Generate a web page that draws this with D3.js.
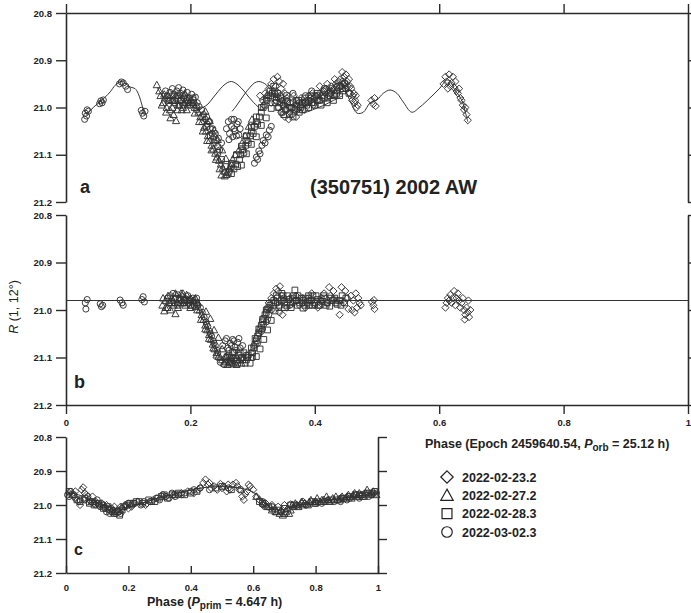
<!DOCTYPE html>
<html>
<head>
<meta charset="utf-8">
<script src="https://cdn.jsdelivr.net/npm/d3@7"></script>
<style>
  body { margin: 0; background: #fff; }
  svg { display: block; }
  text { font-family: "Liberation Sans", Arial, sans-serif; fill: #222; }
</style>
</head>
<body>
<svg id="chart" width="691" height="613"></svg>
<script>
// ---- Observing nights (legend order) ----
const nights = ["2022-02-23.2", "2022-02-27.2", "2022-02-28.3", "2022-03-02.3"];
const shapes = ["diamond", "triangle", "square", "circle"];

// ---- Axis ticks ----
const magMajor = [20.8, 20.9, 21.0, 21.1, 21.2];
const magMinor = [20.85, 20.95, 21.05, 21.15];
const phaseMajor = [0, 0.2, 0.4, 0.6, 0.8, 1];
const phaseMinor = [0.1, 0.3, 0.5, 0.7, 0.9];
const phaseLabels = ["0", "0.2", "0.4", "0.6", "0.8", "1"];

// ---- Panel a: observed R(1,12°) vs orbital phase, [phase, mag] ----
const aDiamond = [
  [0.312,20.975],[0.316,20.985],[0.32,20.97],[0.326,20.96],[0.33,20.95],[0.334,20.94],[0.337,20.955],[0.34,20.935],
  [0.343,20.945],[0.346,20.96],[0.349,20.95],[0.352,20.97],[0.346,21.01],[0.352,21.02],[0.358,21.025],[0.364,21.015],
  [0.37,21.02],[0.355,20.98],[0.36,20.99],[0.366,20.975],[0.372,20.985],[0.378,20.995],[0.383,21.005],[0.388,20.99],
  [0.393,20.98],[0.398,20.995],[0.403,20.985],[0.408,20.97],[0.413,20.98],[0.418,20.96],[0.422,20.975],[0.426,20.955],
  [0.43,20.965],[0.434,20.95],[0.438,20.96],[0.441,20.94],[0.444,20.925],[0.447,20.935],[0.45,20.93],[0.452,20.945],
  [0.455,20.94],[0.457,20.955],[0.459,20.96],[0.461,20.975],[0.463,20.97],[0.465,20.985],[0.467,21.0],[0.469,20.995],
  [0.318,20.995],[0.324,20.975],[0.33,20.99],[0.336,20.97],[0.342,20.98],[0.348,20.995],[0.354,21.005],[0.36,21.01],
  [0.366,21.0],[0.372,21.005],[0.378,20.98],[0.384,20.99],[0.39,20.975],[0.396,20.97],[0.402,20.975],[0.408,20.955],
  [0.414,20.965],[0.42,20.95],[0.426,20.97],[0.432,20.94],[0.438,20.945],[0.442,20.955],[0.446,20.95],[0.449,20.96],
  [0.453,20.955],[0.456,20.97],[0.46,20.985],[0.464,20.99],[0.466,20.975],
  [0.491,20.985],[0.494,20.993],[0.496,20.98],[0.498,20.997],
  [0.607,20.95],[0.61,20.935],[0.612,20.945],[0.614,20.96],[0.616,20.93],[0.618,20.955],[0.62,20.948],[0.622,20.935],
  [0.624,20.958],[0.626,20.945],[0.628,20.965],[0.63,20.97],[0.632,20.96],[0.634,20.98],[0.636,20.985],[0.638,20.995],
  [0.64,21.005],[0.642,21.0],[0.644,21.015],[0.646,21.027]
];
const aTriangle = [
  [0.146,20.952],[0.152,20.975],[0.156,20.99],[0.159,20.98],[0.162,21.0],[0.165,20.985],[0.168,21.022],[0.171,21.0],
  [0.174,20.99],[0.177,21.028],[0.18,20.995],[0.183,20.985],[0.186,21.005],[0.19,20.99],[0.193,20.98],[0.196,20.995],
  [0.2,20.985],[0.204,20.99],[0.207,21.0],[0.21,20.995],
  [0.15,20.965],[0.154,20.995],[0.158,20.972],[0.161,21.01],[0.164,20.975],[0.167,21.005],[0.17,20.985],[0.173,21.015],
  [0.176,20.975],[0.179,21.005],[0.182,20.995],[0.185,20.975],[0.188,21.0],[0.191,20.97],[0.194,21.005],[0.198,20.99],
  [0.213,21.01],[0.216,21.02],[0.219,21.03],[0.222,21.042],[0.225,21.05],[0.228,21.06],[0.231,21.07],[0.234,21.08],
  [0.237,21.088],[0.24,21.097],[0.243,21.105],[0.246,21.112],[0.249,21.12],[0.252,21.128],[0.255,21.135],[0.258,21.142],
  [0.207,21.012],[0.224,21.008],[0.214,21.03],[0.231,21.028],[0.22,21.05],[0.238,21.048],[0.227,21.07],[0.244,21.068],
  [0.234,21.09],[0.251,21.09],[0.241,21.11],[0.257,21.108],[0.247,21.13],[0.264,21.125],[0.25,21.143],[0.255,21.145],
  [0.26,21.138],[0.263,21.13],[0.266,21.12],[0.268,21.11],[0.272,21.1],[0.278,21.09],[0.283,21.075],[0.288,21.06],
  [0.294,21.04],[0.299,21.025]
];
const aSquare = [
  [0.172,20.985],[0.18,20.98],[0.188,20.995],[0.196,20.99],[0.204,20.98],
  [0.22,21.02],[0.226,21.04],[0.232,21.06],[0.238,21.075],[0.244,21.095],[0.25,21.11],
  [0.256,21.125],[0.262,21.135],[0.266,21.14],[0.27,21.13],[0.273,21.12],[0.276,21.125],[0.279,21.11],[0.281,21.1],
  [0.284,21.09],[0.286,21.095],[0.289,21.08],[0.291,21.07],[0.293,21.075],[0.296,21.06],[0.298,21.05],[0.301,21.055],
  [0.303,21.04],[0.306,21.03],[0.308,21.035],[0.311,21.02],[0.314,21.01],[0.317,21.0],[0.32,20.995],[0.323,20.985],
  [0.326,20.975],[0.329,20.98],[0.332,20.97],[0.335,20.965],
  [0.266,21.118],[0.282,21.122],[0.274,21.1],[0.29,21.098],[0.282,21.082],[0.298,21.078],[0.29,21.06],[0.306,21.062],
  [0.298,21.042],[0.314,21.038],[0.306,21.02],[0.322,21.022],[0.314,21.0],[0.33,21.002],[0.322,20.98],[0.338,20.978],
  [0.328,20.965],[0.334,20.955],
  [0.338,20.985],[0.341,21.0],[0.344,20.99],[0.347,21.01],[0.35,20.995],[0.353,21.005],[0.356,20.99],[0.359,21.015],
  [0.362,21.0],[0.365,20.99],[0.368,21.005],[0.371,20.995],[0.374,20.985],[0.377,21.0],[0.38,20.99],[0.384,20.98],
  [0.387,20.995],[0.39,20.985],[0.394,20.975],[0.397,20.99],[0.4,20.98],[0.404,20.97],[0.408,20.985],[0.412,20.975],
  [0.416,20.965],[0.42,20.98],[0.424,20.97],[0.428,20.96],[0.432,20.975],[0.436,20.965],[0.44,20.955],[0.444,20.96],
  [0.448,20.95],
  [0.34,20.97],[0.345,20.98],[0.35,21.015],[0.355,20.975],[0.36,21.0],[0.365,21.02],[0.37,20.985],[0.375,21.01],
  [0.38,21.005],[0.385,20.99],[0.39,21.0],[0.395,20.99],[0.4,20.995],[0.405,20.985],[0.41,20.995],[0.415,20.98],
  [0.42,20.99],[0.425,20.975],[0.43,20.985],[0.435,20.97],[0.44,20.975],[0.445,20.965],[0.45,20.96],[0.455,20.97]
];
const aCircle = [
  [0.030,21.025],[0.031,21.012],[0.033,21.018],[0.034,21.005],[0.036,21.008],
  [0.054,20.992],[0.056,20.986],[0.058,20.99],[0.06,20.984],
  [0.086,20.95],[0.089,20.946],[0.092,20.948],[0.096,20.955],[0.099,20.962],
  [0.121,21.006],[0.123,21.012],[0.125,21.018],[0.127,21.008],
  [0.163,20.975],[0.167,20.968],[0.171,20.96],[0.174,20.972],[0.178,20.965],[0.181,20.958],[0.184,20.97],[0.188,20.963],
  [0.191,20.975],[0.195,20.968],[0.198,20.98],[0.202,20.972],[0.205,20.984],[0.208,20.978],[0.211,20.99],[0.214,20.998],
  [0.16,20.965],[0.165,20.985],[0.17,20.975],[0.175,20.985],[0.18,20.975],[0.185,20.985],[0.19,20.98],[0.195,20.985],
  [0.2,20.995],[0.205,20.99],[0.21,21.005],
  [0.218,21.005],[0.221,21.015],[0.224,21.025],[0.227,21.035],[0.229,21.03],[0.232,21.045],[0.235,21.055],[0.238,21.062],
  [0.241,21.07],[0.244,21.082],[0.247,21.09],
  [0.226,21.02],[0.231,21.03],[0.236,21.045],[0.24,21.055],[0.245,21.065],[0.25,21.075],
  [0.258,21.045],[0.261,21.03],[0.263,21.055],[0.266,21.04],[0.268,21.062],[0.27,21.025],[0.272,21.05],[0.275,21.035],
  [0.278,21.058],[0.28,21.045],[0.262,21.068],[0.266,21.025],[0.27,21.045],[0.274,21.06],[0.277,21.03],
  [0.303,21.118],[0.306,21.105],[0.308,21.11],[0.31,21.092],[0.312,21.098],[0.315,21.08],[0.317,21.07],[0.32,21.075],
  [0.322,21.058],[0.325,21.062],[0.327,21.048],[0.33,21.04],
  [0.336,20.99],[0.342,21.0],[0.348,20.985],[0.345,20.975],[0.355,20.985],[0.365,20.97],[0.375,20.99],[0.385,20.975],
  [0.395,20.965],[0.405,20.975],[0.415,20.96],[0.425,20.965],[0.435,20.955],[0.445,20.945]
];
// Model curves for each night (primary + secondary rotation)
const aModel1 = [
  [0.032,21.015],[0.04,21.005],[0.048,20.995],[0.055,20.988],[0.063,20.978],[0.071,20.967],[0.079,20.953],[0.085,20.947],
  [0.092,20.945],[0.098,20.952],[0.104,20.957],[0.111,20.96],[0.116,20.97],[0.12,20.985],[0.124,21.003],[0.127,21.012]
];
const aModel2 = [
  [0.147,20.958],[0.152,20.97],[0.16,20.985],[0.168,20.99],[0.178,20.992],[0.188,20.99],[0.198,20.993],[0.206,21.0],
  [0.212,21.005],[0.22,21.0],[0.228,20.993],[0.236,20.98],[0.244,20.967],[0.252,20.955],[0.26,20.947],[0.266,20.945],
  [0.272,20.948],[0.278,20.954],[0.286,20.965],[0.294,20.978],[0.302,20.99],[0.31,21.0]
];
const aModel3 = [
  [0.267,21.008],[0.272,21.0],[0.28,20.985],[0.288,20.97],[0.296,20.957],[0.303,20.948],[0.31,20.945],
  [0.316,20.947],[0.322,20.952],[0.33,20.965],[0.338,20.978],[0.346,20.99],[0.354,21.0],[0.37,21.008],[0.385,21.01],
  [0.4,21.003],[0.415,20.995],[0.43,20.985],[0.445,20.975]
];
const aModel4 = [
  [0.312,20.985],[0.325,20.98],[0.34,20.985],[0.36,20.995],[0.38,21.0],[0.4,20.985],[0.42,20.965],[0.435,20.95],
  [0.443,20.946],[0.45,20.965],[0.458,20.99],[0.468,21.012],[0.478,21.01],[0.489,20.99],[0.5,20.984],[0.51,20.97],
  [0.521,20.963],[0.532,20.97],[0.542,20.988],[0.556,21.01],[0.569,20.999],[0.585,20.98],[0.601,20.959],[0.612,20.942],
  [0.618,20.945],[0.625,20.963],[0.632,20.975],[0.638,20.99],[0.642,21.01],[0.646,21.03]
];

// ---- Panel b: after subtracting the primary lightcurve ----
const bMean = 20.98;
const bDiamond = [
  [0.326,20.985],[0.33,20.975],[0.334,20.965],[0.338,20.955],[0.341,20.96],[0.344,20.95],[0.347,20.97],[0.35,20.98],
  [0.343,21.005],[0.348,21.01],[0.355,20.995],[0.36,20.975],[0.365,20.985],[0.37,20.97],[0.375,20.99],[0.38,20.975],
  [0.385,20.995],[0.39,20.98],[0.395,20.965],[0.4,20.985],[0.405,20.995],[0.41,20.975],[0.415,20.965],[0.42,20.985],
  [0.423,20.952],[0.425,20.97],[0.43,20.96],[0.435,20.98],[0.44,21.01],[0.443,20.952],[0.446,20.985],[0.449,20.96],
  [0.452,20.975],[0.454,20.998],[0.458,20.97],[0.46,21.0],[0.462,20.98],[0.464,21.005],[0.466,20.965],[0.468,20.995],
  [0.47,20.975],[0.472,20.985],[0.474,20.99],
  [0.492,20.983],[0.494,20.99],[0.496,20.998],[0.495,20.979],
  [0.61,20.995],[0.612,20.985],[0.614,20.975],[0.616,20.98],[0.618,20.968],[0.62,20.985],[0.622,20.975],[0.624,20.96],
  [0.626,20.99],[0.628,20.975],[0.63,20.965],[0.632,20.98],[0.634,20.995],[0.636,20.985],[0.638,20.975],[0.64,21.0],
  [0.642,21.01],[0.644,20.995],[0.646,21.005],[0.648,21.015],[0.65,21.0],[0.647,20.98],[0.641,21.02]
];
const bTriangle = [
  [0.155,20.99],[0.158,21.002],[0.16,20.98],[0.163,20.995],[0.166,20.985],[0.17,20.975],[0.173,20.99],[0.176,21.008],
  [0.179,20.985],[0.182,20.975],[0.185,20.965],[0.188,20.985],[0.191,20.978],[0.194,20.968],[0.197,20.985],[0.2,20.975],
  [0.203,20.99],[0.206,20.98],[0.209,20.993],[0.212,20.985],
  [0.156,20.975],[0.16,20.995],[0.164,20.97],[0.168,21.0],[0.172,20.98],[0.176,20.965],[0.18,20.995],[0.184,20.985],
  [0.188,20.965],[0.192,20.99],[0.196,20.978],[0.2,20.995],[0.204,20.98],[0.208,20.975],
  [0.215,21.0],[0.218,21.01],[0.221,21.02],[0.224,21.032],[0.227,21.042],[0.23,21.052],[0.233,21.062],[0.236,21.072],
  [0.239,21.082],[0.242,21.09],[0.245,21.098],[0.248,21.1],
  [0.211,21.0],[0.225,21.003],[0.217,21.02],[0.232,21.018],[0.224,21.04],[0.238,21.042],[0.23,21.06],[0.245,21.058],
  [0.237,21.08],[0.251,21.082],[0.242,21.095],[0.256,21.098],
  [0.251,21.105],[0.254,21.112],[0.257,21.108],[0.26,21.115],[0.263,21.11],[0.266,21.102],[0.269,21.112],
  [0.258,21.098],[0.262,21.105],[0.266,21.112],[0.27,21.1],[0.274,21.115],[0.278,21.105],[0.282,21.112],[0.286,21.1]
];
const bSquare = [
  [0.17,20.985],[0.18,20.99],[0.19,20.98],[0.2,20.99],[0.21,20.985],
  [0.262,21.095],[0.266,21.1],[0.27,21.09],[0.274,21.105],[0.278,21.095],[0.282,21.1],[0.286,21.09],[0.29,21.105],
  [0.293,21.095],[0.296,21.112],[0.298,21.1],
  [0.288,21.112],[0.284,21.105],[0.28,21.09],[0.276,21.112],[0.272,21.108],[0.268,21.09],[0.264,21.108],[0.259,21.1],
  [0.3,21.09],[0.302,21.08],[0.304,21.072],[0.306,21.065],[0.308,21.055],[0.31,21.048],[0.312,21.04],[0.314,21.032],
  [0.316,21.025],[0.318,21.018],[0.32,21.01],[0.322,21.005],[0.324,20.998],[0.326,20.995],[0.328,20.99],[0.331,20.985],
  [0.334,20.98],
  [0.292,21.1],[0.306,21.098],[0.298,21.08],[0.312,21.082],[0.304,21.06],[0.318,21.062],[0.31,21.04],[0.324,21.042],
  [0.316,21.02],[0.33,21.022],[0.322,21.0],[0.336,21.002],
  [0.337,20.985],[0.34,20.975],[0.343,20.99],[0.346,20.98],[0.349,20.97],[0.352,20.985],[0.355,20.99],[0.358,20.978],
  [0.361,20.985],[0.364,20.975],[0.368,20.958],[0.37,20.98],[0.373,20.97],[0.376,20.985],[0.381,20.996],[0.382,20.98],
  [0.385,20.975],[0.388,20.985],[0.391,20.99],[0.394,20.98],[0.397,20.97],[0.4,20.985],[0.404,20.978],[0.408,20.99],
  [0.412,20.982],[0.416,20.975],[0.42,20.985],[0.424,20.992],[0.428,20.98],[0.432,20.975],[0.436,20.988],[0.44,20.98],
  [0.444,20.97],[0.448,20.985],
  [0.338,20.97],[0.342,20.995],[0.347,20.965],[0.351,20.995],[0.356,20.97],[0.362,20.995],[0.366,20.97],[0.372,20.99],
  [0.378,20.975],[0.384,20.99],[0.39,20.97],[0.396,20.99],[0.402,20.97],[0.406,20.99],[0.414,20.97],[0.418,20.99],
  [0.426,20.975],[0.434,20.985],[0.442,20.99],[0.45,20.975]
];
const bCircle = [
  [0.031,20.985],[0.032,20.998],[0.034,20.978],[0.055,20.987],[0.057,20.993],[0.059,20.99],[0.087,20.979],[0.09,20.985],
  [0.092,20.99],[0.122,20.978],[0.124,20.972],[0.126,20.983],
  [0.163,20.975],[0.168,20.97],[0.172,20.965],[0.176,20.975],[0.18,20.968],[0.184,20.98],[0.188,20.972],[0.192,20.978],
  [0.196,20.97],[0.2,20.982],[0.204,20.975],[0.208,20.985],[0.212,20.99],
  [0.166,20.985],[0.174,20.985],[0.182,20.975],[0.19,20.985],[0.198,20.98],[0.206,20.99],[0.21,20.975],
  [0.216,20.995],[0.219,21.005],[0.222,21.015],[0.225,21.025],[0.228,21.035],[0.231,21.045],[0.234,21.055],[0.237,21.065],
  [0.24,21.075],[0.243,21.085],[0.226,21.03],[0.232,21.05],[0.238,21.07],[0.244,21.09],
  [0.252,21.075],[0.256,21.065],[0.26,21.08],[0.264,21.07],[0.268,21.062],[0.272,21.078],[0.276,21.068],[0.28,21.08],
  [0.248,21.11],[0.254,21.115],
  [0.258,21.06],[0.262,21.085],[0.266,21.075],[0.27,21.065],[0.274,21.085],[0.278,21.06],[0.284,21.075],[0.29,21.095],
  [0.298,21.09],[0.302,21.075],[0.306,21.06],[0.31,21.05],[0.314,21.045],[0.318,21.03],[0.322,21.025],[0.326,21.01],
  [0.3,21.1],[0.308,21.07],[0.316,21.04],[0.324,21.02],[0.33,21.0],
  [0.34,20.985],[0.35,20.975],[0.36,20.99],[0.37,20.98],[0.38,20.985],[0.39,20.975],[0.4,20.99],[0.41,20.98],
  [0.42,20.985],[0.43,20.978]
];

// ---- Panel c: primary rotational lightcurve vs rotational phase ----
const cDiamond = [
  [0.01,20.965],[0.025,20.975],[0.04,20.99],[0.05,20.955],[0.055,20.948],[0.06,20.965],[0.065,20.97],[0.045,21.0],
  [0.075,20.985],[0.085,20.975],[0.095,20.99],[0.105,21.0],[0.115,20.995],[0.125,21.008],[0.135,21.012],[0.145,21.02],
  [0.155,21.005],[0.165,21.015],[0.175,21.005],[0.19,21.0],[0.21,21.005],[0.23,20.99],[0.255,21.0],[0.28,20.985],
  [0.32,20.975],[0.345,20.97],[0.37,20.965],[0.39,20.96],[0.41,20.965],[0.425,20.955],[0.44,20.935],[0.447,20.925],
  [0.455,20.94],[0.465,20.95],[0.475,20.945],[0.485,20.955],[0.495,20.938],[0.505,20.945],[0.515,20.96],[0.525,20.955],
  [0.535,20.94],[0.545,20.935],[0.555,20.955],[0.565,20.975],[0.57,20.985],[0.575,20.968],[0.585,20.94],[0.59,20.945],
  [0.6,20.955],[0.61,20.975],[0.62,20.985],[0.63,21.0],[0.64,20.995],[0.655,21.01],[0.68,21.005],[0.72,20.998],
  [0.75,21.0],[0.78,20.995],[0.81,20.99],
  [0.03,20.96],[0.07,20.99],[0.1,20.995],[0.13,21.0],[0.16,21.02],[0.2,21.01],[0.26,20.995],[0.43,20.95],
  [0.46,20.935],[0.5,20.95],[0.52,20.94],[0.55,20.945],[0.58,20.96],[0.66,21.0],[0.7,21.0],[0.76,20.99]
];
const cTriangle = [
  [0.61,20.975],[0.635,20.995],[0.645,21.005],[0.66,21.015],[0.675,21.02],[0.685,21.025],[0.695,21.03],[0.705,21.02],
  [0.715,21.025],[0.725,21.0],[0.735,20.995],[0.745,21.005],[0.755,20.99],[0.765,20.995],[0.775,21.0],[0.785,20.985],
  [0.795,20.995],[0.805,20.98],[0.815,20.99],[0.825,20.985],[0.835,20.975],[0.845,20.99],[0.855,20.98],[0.865,20.975],
  [0.875,20.985],[0.885,20.975],[0.895,20.98],[0.905,20.97],[0.915,20.98],[0.925,20.965],[0.935,20.975],[0.945,20.97],
  [0.955,20.975],[0.965,20.955],[0.975,20.97],[0.985,20.96],[0.995,20.97],
  [0.64,21.0],[0.67,21.01],[0.69,21.015],[0.7,21.025],[0.71,21.01],[0.72,21.015],[0.73,21.005],[0.74,21.0],
  [0.76,21.0],[0.78,20.99],[0.8,20.99],[0.82,20.985],[0.84,20.985],[0.86,20.985],[0.88,20.98],[0.9,20.975],
  [0.92,20.97],[0.94,20.965],[0.96,20.965],[0.98,20.965]
];
const cSquare = [
  [0.02,20.97],[0.035,20.985],[0.06,20.98],[0.075,20.995],[0.09,21.0],[0.105,20.995],[0.12,21.01],[0.135,21.005],
  [0.15,21.02],[0.165,21.02],[0.172,21.03],[0.185,21.005],[0.205,20.995],[0.225,20.99],[0.245,20.995],[0.265,20.985],
  [0.285,20.99],[0.305,20.975],[0.325,20.98],[0.34,20.97],[0.36,20.965],[0.38,20.97],[0.42,20.96],[0.48,20.95],
  [0.5,20.945],[0.53,20.955],[0.62,20.99],[0.65,21.005],[0.67,21.02],[0.7,21.01],[0.73,21.0],[0.76,20.995],
  [0.79,20.99],[0.83,20.99],[0.87,20.985],[0.91,20.975],[0.93,20.97],[0.95,20.975],[0.97,20.965],[0.99,20.96],
  [0.01,20.96],[0.045,20.99],[0.085,20.99],[0.115,21.0],[0.14,21.015],[0.155,21.025],[0.18,21.015],[0.195,21.0],
  [0.215,20.995],[0.235,20.99],[0.275,20.99],[0.295,20.98],[0.315,20.97],[0.35,20.97],[0.4,20.965],[0.63,20.995],
  [0.68,21.015],[0.72,21.0],[0.8,20.995],[0.85,20.985],[0.89,20.98],[0.94,20.97],[0.98,20.965]
];
const cCircle = [
  [0.005,20.97],[0.015,20.96],[0.03,20.98],[0.045,20.985],[0.07,20.975],[0.08,20.99],[0.09,20.995],[0.1,20.985],
  [0.11,21.005],[0.12,21.0],[0.13,21.02],[0.14,21.025],[0.15,21.015],[0.16,21.025],[0.17,21.02],[0.18,21.01],
  [0.2,20.995],[0.22,20.995],[0.24,21.0],[0.27,20.99],[0.3,20.985],[0.31,20.97],[0.33,20.98],[0.35,20.975],
  [0.36,20.97],[0.38,20.965],[0.4,20.96],[0.43,20.95],[0.46,20.955],[0.52,20.95],[0.56,20.955],[0.63,20.99],
  [0.66,21.005],[0.69,21.02],[0.74,21.0],[0.77,21.0],[0.8,20.99],[0.82,20.995],[0.84,20.985],[0.86,20.99],
  [0.88,20.98],[0.9,20.985],[0.92,20.975],[0.94,20.98],[0.96,20.965],[0.98,20.97],[0.995,20.965],
  [0.01,20.975],[0.025,20.97],[0.06,20.985],[0.095,21.0],[0.125,21.01],[0.145,21.01],[0.175,21.025],[0.19,21.005],
  [0.21,21.0],[0.25,20.99],[0.29,20.98],[0.32,20.975],[0.34,20.965],[0.37,20.97],[0.41,20.955],[0.88,20.99],
  [0.91,20.98],[0.93,20.97],[0.95,20.97],[0.97,20.975]
];
const cModel = [
  [0,20.962],[0.04,20.97],[0.08,20.985],[0.12,20.998],[0.16,21.01],[0.18,21.012],[0.2,21.008],[0.23,20.998],
  [0.26,20.99],[0.3,20.978],[0.34,20.97],[0.38,20.96],[0.42,20.952],[0.46,20.947],[0.5,20.946],[0.54,20.948],
  [0.58,20.955],[0.6,20.962],[0.62,20.978],[0.64,20.997],[0.66,21.01],[0.68,21.015],[0.7,21.013],[0.72,21.005],
  [0.76,20.998],[0.8,20.992],[0.84,20.986],[0.88,20.98],[0.92,20.975],[0.96,20.97],[1.0,20.962]
];

// ---- Layout ----
const svg = d3.select("#chart");
const axisColor = "#2b2b2b";
const markColor = "#333";

const xOrb = d3.scaleLinear().domain([0, 1]).range([66, 688]);
const xPrim = d3.scaleLinear().domain([0, 1]).range([66, 378]);
const yA = d3.scaleLinear().domain([20.8, 21.2]).range([13, 202]);
const yB = d3.scaleLinear().domain([20.8, 21.2]).range([215, 405]);
const yC = d3.scaleLinear().domain([20.8, 21.2]).range([437, 573]);

function symbolPath(type, s) {
  if (type === "diamond") return `M0,${-s}L${s},0L0,${s}L${-s},0Z`;
  if (type === "square") { const h = s * 0.8; return `M${-h},${-h}H${h}V${h}H${-h}Z`; }
  if (type === "triangle") return `M0,${-s}L${s},${s * 0.8}L${-s},${s * 0.8}Z`;
  const r = s * 0.85;
  return `M${r},0A${r},${r} 0 1,1 ${-r},0A${r},${r} 0 1,1 ${r},0Z`;
}

function drawPoints(g, data, type, x, y) {
  g.append("g").selectAll("path").data(data).join("path")
    .attr("d", symbolPath(type, 3.6))
    .attr("transform", d => `translate(${x(d[0])},${y(d[1])})`)
    .attr("fill", "none")
    .attr("stroke", markColor)
    .attr("stroke-width", 0.95);
}

function drawLine(g, data, x, y) {
  g.append("path").datum(data)
    .attr("d", d3.line().x(d => x(d[0])).y(d => y(d[1])).curve(d3.curveCatmullRom))
    .attr("fill", "none")
    .attr("stroke", "#333")
    .attr("stroke-width", 1);
}

// Generic axis helper: minor ticks, major ticks (optional labels), spine
function axis(gen, scale, major, minor, majLen, minLen, pos, fmt, pad) {
  const g = svg.append("g").attr("transform", pos);
  g.call(gen(scale).tickValues(minor).tickSizeInner(minLen).tickSizeOuter(0).tickFormat(""));
  g.call(gen(scale).tickValues(major).tickSizeInner(majLen).tickSizeOuter(0)
    .tickPadding(pad || 4).tickFormat(fmt || (() => "")));
  g.selectAll(".domain").attr("stroke", axisColor).attr("stroke-width", 1.6);
  g.selectAll(".tick line").attr("stroke", axisColor).attr("stroke-width", 1.4);
  g.selectAll(".tick text").attr("fill", "#222").attr("font-size", 9.5).attr("font-weight", "bold")
    .attr("font-family", "'Liberation Sans', Arial, sans-serif");
  return g;
}
const magFmt = d3.format(".1f");
const phaseFmt = d => phaseLabels[phaseMajor.indexOf(d)];

// Panel a axes
axis(d3.axisTop, xOrb, phaseMajor, phaseMinor, 9, 4, `translate(0,${yA(20.8)})`);
axis(d3.axisLeft, yA, magMajor, magMinor, 10, 5, `translate(${xOrb(0)},0)`, magFmt);
axis(d3.axisRight, yA, magMajor, magMinor, 9, 5, `translate(${xOrb(1)},0)`);

// Panel b axes
axis(d3.axisLeft, yB, magMajor, magMinor, 10, 5, `translate(${xOrb(0)},0)`, magFmt);
axis(d3.axisRight, yB, magMajor, magMinor, 9, 5, `translate(${xOrb(1)},0)`);
axis(d3.axisBottom, xOrb, phaseMajor, phaseMinor, 9, 5, `translate(0,${yB(21.2)})`, phaseFmt, 5);

// Panel c axes
axis(d3.axisLeft, yC, magMajor, magMinor, 10, 5, `translate(${xPrim(0)},0)`, magFmt);
axis(d3.axisRight, yC, magMajor, magMinor, 9, 5, `translate(${xPrim(1)},0)`);
axis(d3.axisBottom, xPrim, phaseMajor, phaseMinor, -7, -4, `translate(0,${yC(21.2)})`, phaseFmt, 11);

// Marks
const gA = svg.append("g"), gB = svg.append("g"), gC = svg.append("g");
[aDiamond, aTriangle, aSquare, aCircle].forEach((d, i) => drawPoints(gA, d, shapes[i], xOrb, yA));
[aModel1, aModel2, aModel3, aModel4].forEach(d => drawLine(gA, d, xOrb, yA));

[bDiamond, bTriangle, bSquare, bCircle].forEach((d, i) => drawPoints(gB, d, shapes[i], xOrb, yB));
gB.append("line")
  .attr("x1", xOrb(0)).attr("x2", xOrb(1))
  .attr("y1", yB(bMean)).attr("y2", yB(bMean))
  .attr("stroke", "#333").attr("stroke-width", 1);

[cDiamond, cTriangle, cSquare, cCircle].forEach((d, i) => drawPoints(gC, d, shapes[i], xPrim, yC));
drawLine(gC, cModel, xPrim, yC);

// Panel letters and object name
svg.append("text").attr("x", 80).attr("y", 193).attr("font-size", 18).attr("font-weight", "bold").text("a");
svg.append("text").attr("x", 74).attr("y", 388).attr("font-size", 18).attr("font-weight", "bold").text("b");
svg.append("text").attr("x", 74).attr("y", 555).attr("font-size", 16).attr("font-weight", "bold").text("c");
svg.append("text").attr("x", 310).attr("y", 194).attr("font-size", 21).attr("font-weight", "bold")
  .attr("textLength", 167).attr("lengthAdjust", "spacingAndGlyphs")
  .text("(350751) 2002 AW");

// Y-axis title
const yt = svg.append("text").attr("transform", "translate(18,307) rotate(-90)")
  .attr("text-anchor", "middle").attr("font-size", 12.5);
yt.append("tspan").attr("font-style", "italic").text("R");
yt.append("tspan").text(" (1, 12°)");

// X-axis titles
const xt1 = svg.append("text").attr("x", 425).attr("y", 448).attr("font-size", 12.5).attr("font-weight", "bold");
xt1.append("tspan").text("Phase (Epoch 2459640.54, ");
xt1.append("tspan").attr("font-style", "italic").text("P");
xt1.append("tspan").attr("font-size", 10).attr("dy", 3).text("orb");
xt1.append("tspan").attr("dy", -3).text(" = 25.12 h)");

const xt2 = svg.append("text").attr("x", 147).attr("y", 606).attr("font-size", 12.5).attr("font-weight", "bold");
xt2.append("tspan").text("Phase (");
xt2.append("tspan").attr("font-style", "italic").text("P");
xt2.append("tspan").attr("font-size", 10).attr("dy", 3).text("prim");
xt2.append("tspan").attr("dy", -3).text(" = 4.647 h)");

// Legend
const legY = d3.scalePoint().domain(nights).range([477, 532]);
const leg = svg.append("g");
nights.forEach((n, i) => {
  leg.append("path").attr("d", symbolPath(shapes[i], 6.2))
    .attr("transform", `translate(447,${legY(n)})`)
    .attr("fill", "none").attr("stroke", "#222").attr("stroke-width", 1.2);
  leg.append("text").attr("x", 462).attr("y", legY(n) + 4.5)
    .attr("font-size", 12.5).attr("font-weight", "bold").text(n);
});
</script>
</body>
</html>
